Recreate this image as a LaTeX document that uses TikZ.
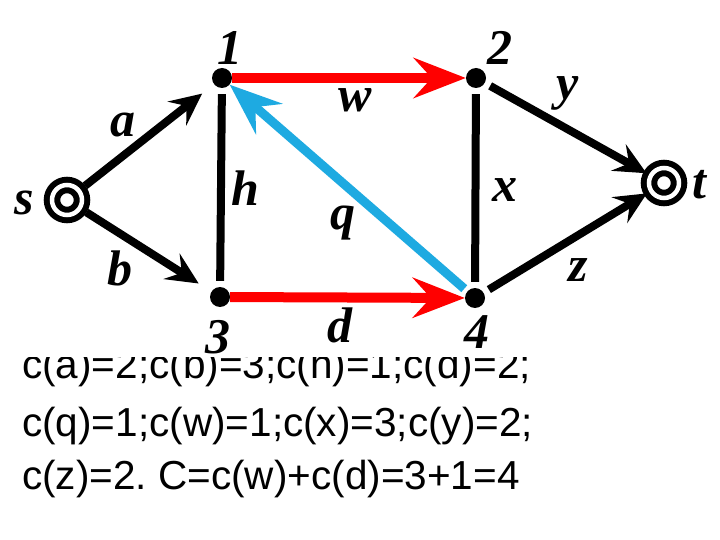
\documentclass[tikz,border=0pt]{standalone}
\usepackage{fontspec}
\setmainfont{Liberation Serif}
\newfontfamily\arialfam{Liberation Sans}
\usetikzlibrary{arrows.meta}
\definecolor{qblue}{RGB}{30,170,225}
\frenchspacing

\begin{document}
\begin{tikzpicture}[x=1pt,y=-1pt,
  dot/.style={circle, fill=black, inner sep=0pt, minimum size=20pt},
  term/.style={circle, draw=black, line width=6pt, double=white, double distance=4.5pt, inner sep=0pt, minimum size=30pt},
  lbl/.style={font=\fontsize{50}{54}\selectfont\bfseries\itshape},
  blk/.style={line width=8pt, -{Stealth[length=32pt,width=30pt,inset=12pt]}},
  redarr/.style={draw=red, line width=10pt, -{Stealth[length=52pt,width=40pt,inset=18pt]}},
  bluearr/.style={draw=qblue, line width=9pt, -{Stealth[length=52pt,width=40pt,inset=18pt]}},
  txt/.style={anchor=base west, inner sep=0pt, font=\arialfam\fontsize{40.5}{47}\selectfont}]
  \useasboundingbox (0,0) rectangle (720,540);
  \fill[white] (0,0) rectangle (720,540);
  % capacities
  \node[txt] (cap1) at (22,378) {c(a)=2;c(b)=3;c(h)=1;c(d)=2;};
  \fill[white] (0,0) rectangle (720,357);
  \node[txt] (cap2) at (22,436) {c(q)=1;c(w)=1;c(x)=3;c(y)=2;};
  \node[txt] (cap3) at (22,489) {c(z)=2. C=c(w)+c(d)=3+1=4};
  % vertices
  \node[term] (s) at (67,200) {};
  \node[term] (t) at (664,183) {};
  \foreach \n/\x/\y in {1/222/78, 2/476/78, 3/220/297, 4/475/298}
    \node[dot] (n\n) at (\x,\y) {};
  % edges
  \draw[blk, shorten <=5pt, shorten >=15pt] (s) -- (n1);
  \draw[blk, shorten <=5pt, shorten >=15pt] (s) -- (n3);
  \draw[line width=8pt, shorten <=6pt, shorten >=6pt] (n1) -- (n3);
  \draw[line width=8pt, shorten <=6pt, shorten >=6pt] (n2) -- (n4);
  \draw[blk, shorten <=6pt, shorten >=2pt] (n2) -- (t);
  \draw[blk, shorten <=6pt, shorten >=2pt] (n4) -- (t);
  \draw[redarr] (n1) -- (n2);
  \draw[redarr] (n3) -- (n4);
  \draw[bluearr, shorten <=4pt] (n4) -- (n1);
  % labels
  \foreach \t/\x/\y in {s/24/203, t/699/185, 1/230/48, 2/500/48, 3/218/337, 4/477/332,
      a/123/125, b/120/268, h/245/188, w/355/100, q/343/223, x/505/190, y/568/93, z/578/270, d/340/325}
    \node[lbl] (l\t) at (\x,\y) {\t};
\end{tikzpicture}
\end{document}
